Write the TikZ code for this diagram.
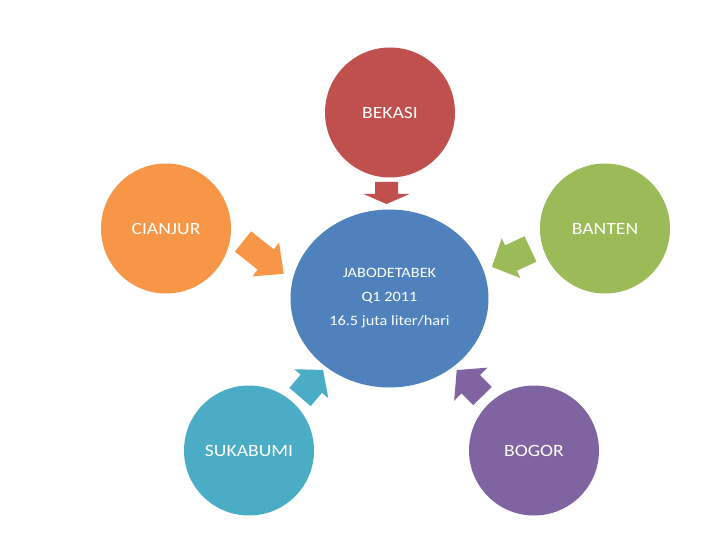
\documentclass[tikz,border=0pt]{standalone}
\usepackage{fontspec}
\setmainfont{Carlito}
\usetikzlibrary{shapes.geometric}
\definecolor{cred}{HTML}{C0504D}
\definecolor{corange}{HTML}{F79646}
\definecolor{cgreen}{HTML}{9BBB59}
\definecolor{cteal}{HTML}{4BACC6}
\definecolor{cpurple}{HTML}{8064A2}
\definecolor{cblue}{HTML}{4F81BD}
\newcommand{\wtxt}[1]{\scalebox{1.14}[1]{#1}}
% color, x, y, angle, length, shaft half-width, head half-width, head length
\newcommand{\blockarrow}[8]{%
  \fill[#1, shift={(#2,#3)}, rotate=#4] (0,-#6) -- ({#5-#8},-#6) -- ({#5-#8},-#7) -- (#5,0)
    -- ({#5-#8},#7) -- ({#5-#8},#6) -- (0,#6) -- cycle;}
\begin{document}
\begin{tikzpicture}[x=1pt,y=-1pt,
  outer/.style={circle, inner sep=0pt, minimum size=130pt, text=white,
    font=\fontsize{17.2}{20}\selectfont},
  hub/.style={ellipse, inner sep=0pt, fill=cblue, text=white, align=center,
    minimum width=198pt, minimum height=178pt, font=\fontsize{14.3}{24}\selectfont}]
\useasboundingbox (0,0) rectangle (720,540);
\fill[white] (0,0) rectangle (720,540);
% circles
\node[outer, fill=cred] (bek) at (390,112.5) {\wtxt{BEKASI}};
\node[outer, fill=corange] (cia) at (166,228.5) {\wtxt{CIANJUR}};
\node[outer, fill=cgreen] (ban) at (605,228.5) {\wtxt{BANTEN}};
\node[outer, fill=cteal] (suk) at (249,450.5) {\wtxt{SUKABUMI}};
\node[outer, fill=cpurple] (bog) at (534,450.5) {\wtxt{BOGOR}};
\node[hub] (hub) at (389.5,298.5) {\wtxt{JABODETABEK}\\ \wtxt{Q1 2011}\\ \wtxt{16.5 juta liter/hari}};
% block arrows
\blockarrow{cred}{386.5}{182}{-90}{22}{11.5}{23}{10}
\blockarrow{corange}{243}{241.5}{-38.4}{52}{13}{21.5}{23}
\blockarrow{cgreen}{530.5}{249}{-155}{42.5}{14}{22}{21}
\blockarrow{cteal}{300}{397}{49.6}{35.5}{14}{22.3}{18}
\blockarrow{cpurple}{482.5}{396}{134.8}{36.6}{13}{23.5}{20}
\end{tikzpicture}
\end{document}
